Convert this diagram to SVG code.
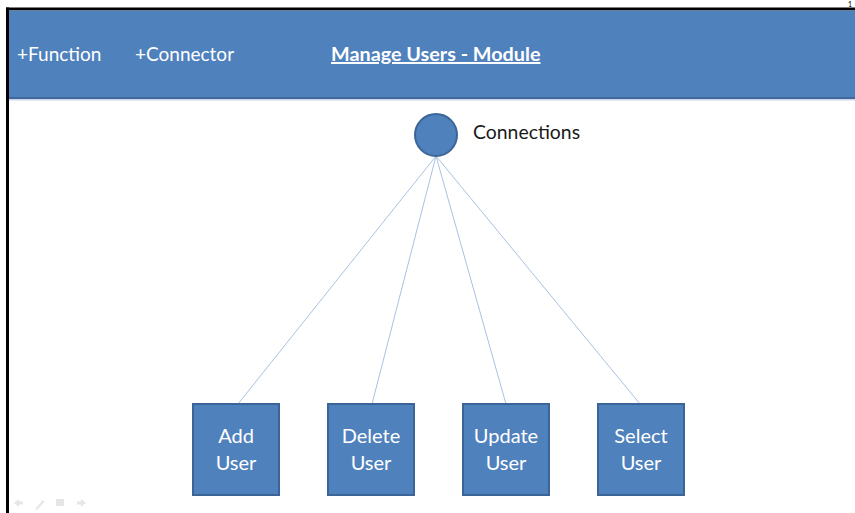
<svg xmlns="http://www.w3.org/2000/svg" width="855" height="513" viewBox="0 0 855 513">
  <style>
    .ui { font-family: Lato, "Open Sans", "Liberation Sans", sans-serif; }
    .head { fill: #ffffff; font-size: 19px; }
    .title { fill: #ffffff; font-size: 19.8px; font-weight: bold; text-decoration: underline; }
    .label { fill: #1a1a1a; font-size: 19.4px; }
    .box { fill: #4f81bd; stroke: #3a6596; stroke-width: 2; }
    .boxtext { fill: #ffffff; font-size: 20px; text-anchor: middle; }
    .link { stroke: #a9c1e2; stroke-width: 1; fill: none; }
    .nav { fill: #e6e6e6; }
  </style>

  <rect x="0" y="0" width="855" height="513" fill="#ffffff"/>

  <!-- slide frame -->
  <rect x="6" y="7.5" width="849" height="3" fill="#000000"/>
  <rect x="6" y="7.5" width="3" height="505.5" fill="#000000"/>
  <text x="848" y="6.5" class="ui" font-size="7" fill="#000000">1</text>

  <!-- header band -->
  <g id="header">
    <rect x="9" y="10.5" width="846" height="87.5" fill="#4f81bd"/>
    <rect x="9" y="97" width="846" height="2" fill="#41689a"/>
    <rect x="9" y="99" width="846" height="1.5" fill="#c9d7ea"/>
    <text x="17" y="61" class="ui head">+Function</text>
    <text x="135" y="61" class="ui head">+Connector</text>
    <text x="331" y="61" class="ui title">Manage Users - Module</text>
  </g>

  <!-- connectors -->
  <g id="connectors">
    <line class="link" x1="436" y1="156" x2="238" y2="404"/>
    <line class="link" x1="436" y1="156" x2="372" y2="404"/>
    <line class="link" x1="436" y1="156" x2="506" y2="404"/>
    <line class="link" x1="436" y1="156" x2="640" y2="404"/>
  </g>

  <g id="connections">
    <circle cx="436" cy="135" r="21" fill="#4f81bd" stroke="#3a6596" stroke-width="2"/>
    <text x="473" y="138.5" class="ui label">Connections</text>
  </g>

  <g id="add-user">
    <rect class="box" x="193" y="404" width="86" height="91"/>
    <text class="ui boxtext" x="236" y="443">Add</text>
    <text class="ui boxtext" x="236" y="470">User</text>
  </g>

  <g id="delete-user">
    <rect class="box" x="328" y="404" width="86" height="91"/>
    <text class="ui boxtext" x="371" y="443">Delete</text>
    <text class="ui boxtext" x="371" y="470">User</text>
  </g>

  <g id="update-user">
    <rect class="box" x="463" y="404" width="86" height="91"/>
    <text class="ui boxtext" x="506" y="443">Update</text>
    <text class="ui boxtext" x="506" y="470">User</text>
  </g>

  <g id="select-user">
    <rect class="box" x="598" y="404" width="86" height="91"/>
    <text class="ui boxtext" x="641" y="443">Select</text>
    <text class="ui boxtext" x="641" y="470">User</text>
  </g>

  <!-- faint slideshow controls -->
  <g id="nav-controls">
    <path class="nav" d="M14 503 l5 -4 v2.5 h4 v3 h-4 v2.5 z"/>
    <path class="nav" d="M36 508 l7 -8 l1.5 1.5 l-7 8 l-2 0.5 z"/>
    <rect class="nav" x="56" y="499" width="8" height="7"/>
    <path class="nav" d="M86 503 l-5 -4 v2.5 h-4 v3 h4 v2.5 z"/>
  </g>
</svg>
